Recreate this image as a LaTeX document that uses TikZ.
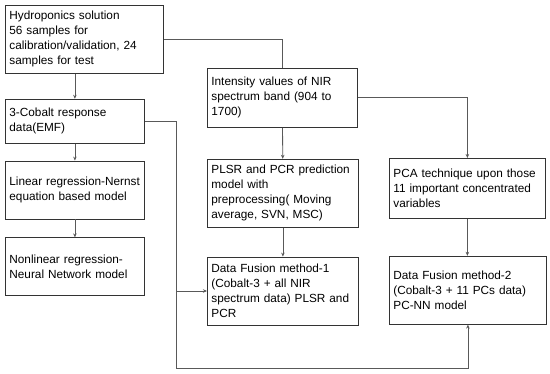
\documentclass[tikz,border=0pt]{standalone}
\usepackage{fontspec}
\setmainfont{Liberation Sans}
\usepackage{tikz}
\usetikzlibrary{arrows.meta, positioning}

\begin{document}
\begin{tikzpicture}[
    x=1pt, y=1pt,
    box/.style={rectangle, draw=black!80, line width=0.8pt, inner xsep=4pt, inner ysep=0pt,
                align=left, anchor=north west, font=\fontsize{11.8}{15}\selectfont,
                execute at begin node={\hyphenpenalty=10000}},
    link/.style={draw=black!65, line width=0.8pt},
    arrow/.style={link, -{Stealth[length=4pt, width=3.5pt]}}
]

% Frame
\useasboundingbox (0,0) rectangle (550,-374);

% Left column
\node[box, text width=150pt, minimum height=68pt] at (5,-5) (hydro) {Hydroponics solution\\56 samples for\\calibration/validation, 24\\samples for test};
\node[box, text width=131pt, minimum height=44pt, below=25pt of hydro.south west, anchor=north west] (cobalt) {3-Cobalt response\\data(EMF)};
\node[box, text width=131pt, minimum height=58pt, below=17pt of cobalt.south west, anchor=north west] (linreg) {Linear regression-Nernst\\equation based model};
\node[box, text width=131pt, minimum height=58pt, below=18pt of linreg.south west, anchor=north west] (nonlin) {Nonlinear regression-\\Neural Network model};

% Middle column
\node[box, text width=142pt, minimum height=59pt] at (207,-68) (nir) {Intensity values of NIR\\spectrum band (904 to\\1700)};
\node[box, text width=143pt, minimum height=68pt, below=31pt of nir.south west, anchor=north west] (plsr) {PLSR and PCR prediction\\model with\\preprocessing( Moving\\average, SVN, MSC)};
\node[box, text width=143pt, minimum height=68pt, below=29pt of plsr.south west, anchor=north west] (fusion1) {Data Fusion method-1\\(Cobalt-3 + all NIR\\spectrum data) PLSR and\\PCR};

% Right column
\node[box, text width=148pt, minimum height=60pt] at (389,-158) (pca) {PCA technique upon those\\11 important concentrated\\variables};
\node[box, text width=149pt, minimum height=68pt, below=37pt of pca.south west, anchor=north west] (fusion2) {Data Fusion method-2\\(Cobalt-3 + 11 PCs data)\\PC-NN model};

% Bus line under the middle column
\coordinate (bus) at (176,-368);

% Arrows
\draw[arrow] (cobalt.north |- hydro.south) -- (cobalt.north);
\draw[link] (hydro.east) -| (nir.north);
\draw[arrow] (cobalt) -- (linreg);
\draw[arrow] (linreg) -- (nonlin);
\draw[arrow] (nir) -- (plsr);
\draw[arrow] (nir.east) -| (pca.north);
\draw[arrow] (plsr) -- (fusion1);
\draw[arrow] (pca.south) -- (pca.south |- fusion2.north);
\draw[arrow] (cobalt.east) -| (bus) -| (fusion2.south);
\draw[arrow] (bus |- fusion1.west) -- (fusion1.west);

\end{tikzpicture}
\end{document}
